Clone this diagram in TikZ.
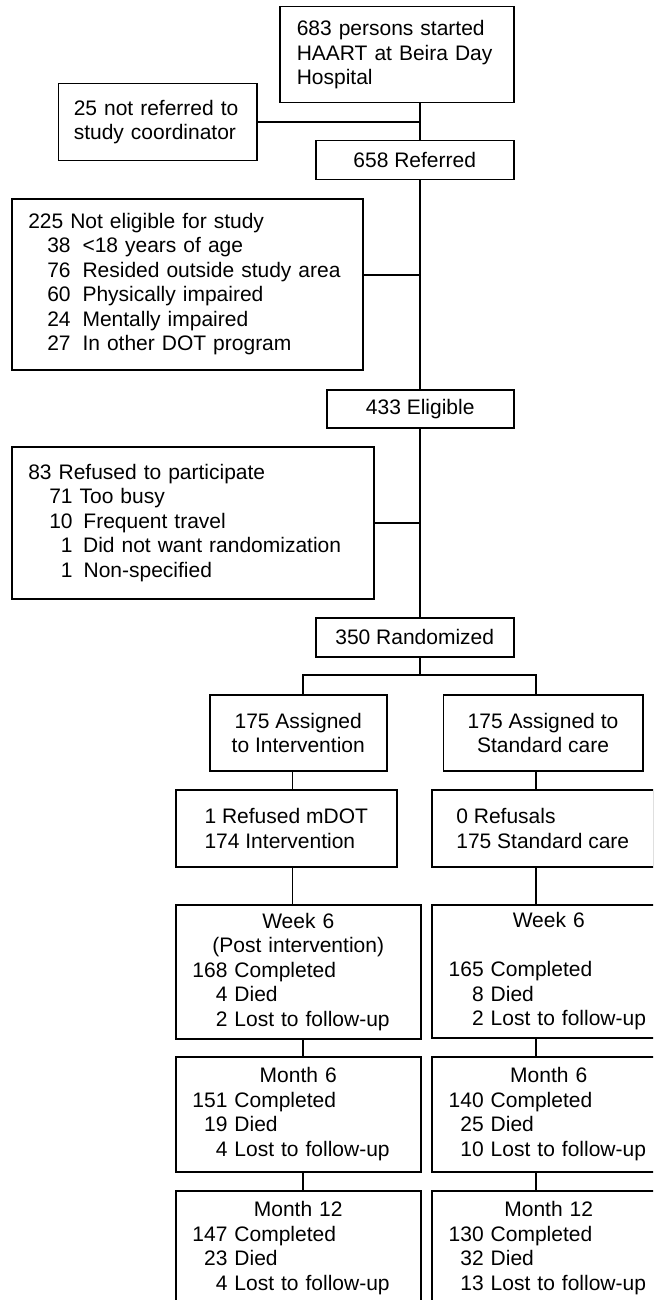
\documentclass[tikz,border=0pt]{standalone}
\usepackage{fontspec}
\setmainfont{Liberation Sans}
\newcommand{\cnt}[2]{\makebox[35pt][r]{#1} #2}
\newcommand{\why}[4]{\hspace*{#1}\makebox[23.4pt][r]{#2}\hspace{#3}#4}

\begin{document}
\begin{tikzpicture}[x=1pt, y=-1pt]
\tikzset{
    block/.style={rectangle, draw, line width=1.5pt, anchor=north west, inner sep=0pt,
        font=\fontsize{21}{24.5}\selectfont},
    link/.style={line width=1.5pt}
}
  \clip (0,0) rectangle (653,1300);
  \coordinate (trunk) at (420,0);
  \coordinate (colI) at (303,0);
  \coordinate (colIb) at (292.5,0);
  \coordinate (colS) at (536,0);
  \coordinate (split) at (420,675);

  \node[block, minimum width=234pt, minimum height=96pt, text width=200pt, align=left] (start) at (279,6) {683 persons started\\HAART at Beira Day\\Hospital};
  \node[block, minimum width=198.5pt, minimum height=77pt, text width=167.5pt, align=left] (notref) at (57.5,83) {25 not referred to\\study coordinator};
  \node[block, minimum width=198pt, minimum height=39pt] (referred) at (315,140) {658 Referred};
  \node[block, minimum width=351pt, minimum height=171pt, text width=318pt, align=left] (noteligible) at (11,198) {225 Not eligible for study\\
    \why{19pt}{38}{11.9pt}{<18 years of age}\\
    \why{19pt}{76}{11.9pt}{Resided outside study area}\\
    \why{19pt}{60}{11.9pt}{Physically impaired}\\
    \why{19pt}{24}{11.9pt}{Mentally impaired}\\
    \why{19pt}{27}{11.9pt}{In other DOT program}};
  \node[block, minimum width=187pt, minimum height=38pt] (eligible) at (326,389) {433 Eligible};
  \node[block, minimum width=362pt, minimum height=152pt, text width=329pt, align=left] (refused) at (11,446) {83 Refused to participate\\
    \hspace*{21pt}71 Too busy\\
    \why{21pt}{10}{10.8pt}{Frequent travel}\\
    \why{21pt}{1}{10.5pt}{Did not want randomization}\\
    \why{21pt}{1}{11pt}{Non-specified}};
  \node[block, minimum width=198pt, minimum height=39pt] (random) at (315,617) {350 Randomized};
  \node[block, minimum width=177pt, minimum height=76pt, align=center] (armI) at (209,694) {175 Assigned\\to Intervention};
  \node[block, minimum width=199.5pt, minimum height=76pt, align=center] (armS) at (442.5,694) {175 Assigned to\\Standard care};
  \node[block, minimum width=221pt, minimum height=77pt, align=left] (refI) at (175,789) {1 Refused mDOT\\174 Intervention};
  \node[block, minimum width=222pt, minimum height=77pt, align=left] (refS) at (431,789) {0 Refusals\\175 Standard care};
  \node[block, minimum width=245pt, minimum height=134pt, text width=211.6pt, align=left] (wkI) at (175,904) {\makebox[\hsize]{Week 6}\\\makebox[\hsize]{(Post intervention)}\\
    \cnt{168}{Completed}\\\cnt{4}{Died}\\\cnt{2}{Lost to follow-up}};
  \node[block, minimum width=234pt, minimum height=133pt, text width=200pt, align=left] (wkS) at (431,904) {\makebox[\hsize]{Week 6}\\[24.5pt]
    \cnt{165}{Completed}\\\cnt{8}{Died}\\\cnt{2}{Lost to follow-up}};
  \node[block, minimum width=245pt, minimum height=115pt, text width=211.6pt, align=left] (moI) at (175,1056) {\makebox[\hsize]{Month 6}\\
    \cnt{151}{Completed}\\\cnt{19}{Died}\\\cnt{4}{Lost to follow-up}};
  \node[block, minimum width=234pt, minimum height=115pt, text width=200pt, align=left] (moS) at (431,1056) {\makebox[\hsize]{Month 6}\\
    \cnt{140}{Completed}\\\cnt{25}{Died}\\\cnt{10}{Lost to follow-up}};
  \node[block, minimum width=245pt, minimum height=115pt, text width=211.6pt, align=left] (yrI) at (175,1190) {\makebox[\hsize]{Month 12}\\
    \cnt{147}{Completed}\\\cnt{23}{Died}\\\cnt{4}{Lost to follow-up}};
  \node[block, minimum width=234pt, minimum height=115pt, text width=200pt, align=left] (yrS) at (431,1190) {\makebox[\hsize]{Month 12}\\
    \cnt{130}{Completed}\\\cnt{32}{Died}\\\cnt{13}{Lost to follow-up}};

  % main line
  \draw[link] (start.south -| trunk) -- (referred.north -| trunk);
  \draw[link] (notref.east) -- (notref.east -| trunk);
  \draw[link] (referred.south -| trunk) -- (eligible.north -| trunk);
  \draw[link] ([yshift=9.5pt]noteligible.east) coordinate (ne) -- (ne -| trunk);
  \draw[link] (eligible.south -| trunk) -- (random.north -| trunk);
  \draw[link] (refused.east) -- (refused.east -| trunk);
  \draw[link] (random.south -| trunk) -- (split);
  \draw[link] (armI.north -| colI) |- (split) -| (armS.north -| colS);
  % two arms
  \draw[link] (armI.south -| colIb) -- (refI.north -| colIb);
  \draw[link] (armS.south -| colS) -- (refS.north -| colS);
  \draw[link] (refI.south -| colIb) -- (wkI.north -| colIb);
  \draw[link] (refS.south -| colS) -- (wkS.north -| colS);
  \draw[link] (wkI.south -| colI) -- (moI.north -| colI);
  \draw[link] (wkS.south -| colS) -- (moS.north -| colS);
  \draw[link] (moI.south -| colI) -- (yrI.north -| colI);
  \draw[link] (moS.south -| colS) -- (yrS.north -| colS);
\end{tikzpicture}
\end{document}
